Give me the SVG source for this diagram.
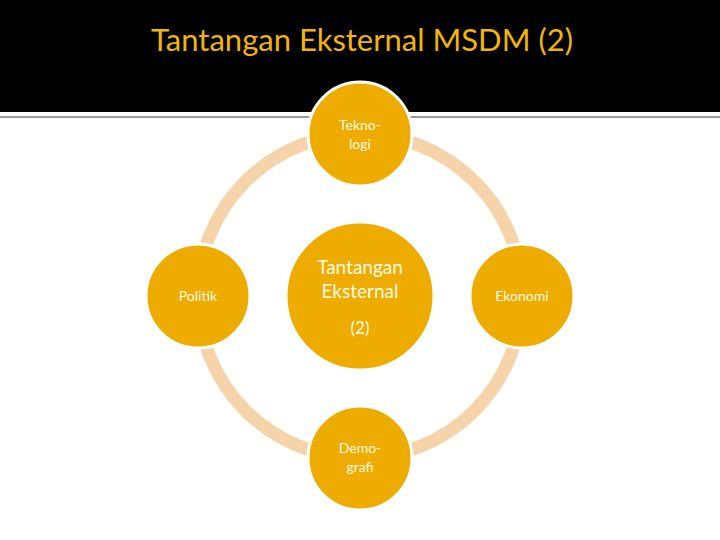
<svg xmlns="http://www.w3.org/2000/svg" width="720" height="540" viewBox="0 0 720 540">
<style>
.n{fill:#EEAB00;stroke:#fff;stroke-width:3}
.t{font-family:Lato,"Liberation Sans",sans-serif;fill:#FFFBE6;text-anchor:middle}
</style>
<rect width="720" height="540" fill="#fff"/>
<rect width="720" height="112" fill="#000"/>
<line x1="0" y1="117" x2="720" y2="117" stroke="#777" stroke-width="1.5"/>
<text x="362" y="51" font-family="Lato,'Liberation Sans',sans-serif" font-size="31" fill="#F2B600" text-anchor="middle">Tantangan Eksternal MSDM (2)</text>
<g id="connectors">
<circle cx="360" cy="296" r="162" fill="none" stroke="#F5D4AA" stroke-width="13"/>
</g>
<g id="center"><circle class="n" cx="360" cy="296" r="74"/>
<text class="t" font-size="19" x="360" y="274">Tantangan</text>
<text class="t" font-size="19" x="360" y="298">Eksternal</text>
<text class="t" font-size="17" x="360" y="334">(2)</text></g>
<g id="teknologi"><circle class="n" cx="360" cy="134" r="52"/>
<text class="t" font-size="14" x="360" y="130">Tekno-</text>
<text class="t" font-size="14" x="360" y="149">logi</text></g>
<g id="politik"><circle class="n" cx="198" cy="296" r="52"/>
<text class="t" font-size="14" x="198" y="301">Politik</text></g>
<g id="ekonomi"><circle class="n" cx="522" cy="296" r="52"/>
<text class="t" font-size="14" x="522" y="301">Ekonomi</text></g>
<g id="demografi"><circle class="n" cx="360" cy="458" r="52"/>
<text class="t" font-size="14" x="360" y="453">Demo-</text>
<text class="t" font-size="14" x="360" y="472">grafi</text></g>
</svg>
